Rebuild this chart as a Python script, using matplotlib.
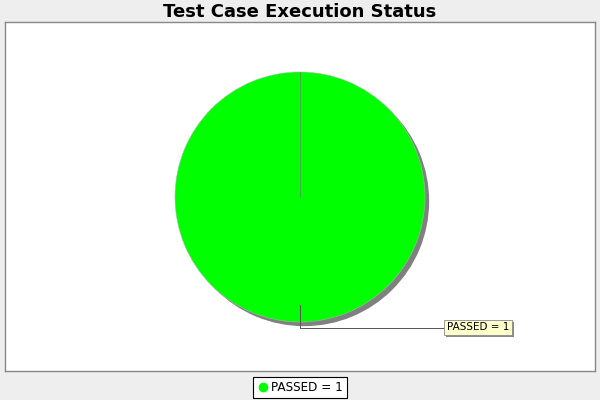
import matplotlib
matplotlib.use("Agg")
import matplotlib.pyplot as plt
import matplotlib.patheffects as pe
from matplotlib.lines import Line2D

TITLE = "Test Case Execution Status"
CATEGORIES = ["PASSED"]
COUNTS = [1]
COLORS = ["#00FF00"]

# Plot area in pixel coordinates (y measured upward from figure bottom)
PLOT_LEFT, PLOT_RIGHT = 5, 595
PLOT_BOTTOM, PLOT_TOP = 29, 378
CENTER = (300, 203)
RADIUS = 125

fig = plt.figure(figsize=(6, 4), dpi=100, facecolor="#EEEEEE")
ax = fig.add_axes([PLOT_LEFT / 600, PLOT_BOTTOM / 400,
                   (PLOT_RIGHT - PLOT_LEFT) / 600, (PLOT_TOP - PLOT_BOTTOM) / 400])
ax.set_facecolor("white")
for spine in ax.spines.values():
    spine.set_edgecolor("#888888")
    spine.set_linewidth(1)
ax.set_xticks([])
ax.set_yticks([])

wedges, _ = ax.pie(COUNTS, colors=COLORS, startangle=90, counterclock=False,
                   center=CENTER, radius=RADIUS, frame=True,
                   wedgeprops={"edgecolor": "#9FBF9F", "linewidth": 0.4})
for w in wedges:
    w.set_path_effects([pe.SimplePatchShadow(offset=(3, -3), shadow_rgbFace="#808080",
                                             alpha=1.0), pe.Normal()])
ax.set_xlim(PLOT_LEFT, PLOT_RIGHT)
ax.set_ylim(PLOT_BOTTOM, PLOT_TOP)
ax.set_aspect("equal")

# slice boundary line from the centre to the top
ax.plot([CENTER[0], CENTER[0]], [CENTER[1], CENTER[1] + RADIUS],
        color="#5F8F5F", linewidth=0.5)

# section label with link line
label_y = 72.5
ax.plot([CENTER[0], CENTER[0], 445], [95, label_y, label_y],
        color="#555555", linewidth=0.7)
ann = ax.text(447, label_y, f"{CATEGORIES[0]} = {COUNTS[0]}", fontsize=7.5,
              ha="left", va="center",
              bbox={"boxstyle": "square,pad=0.25", "fc": "#FFFFCC",
                    "ec": "#888888", "lw": 0.6})
ann.get_bbox_patch().set_path_effects([
    pe.SimplePatchShadow(offset=(1.5, -1.5), shadow_rgbFace="#888888", alpha=1.0),
    pe.Normal()])

fig.text(0.5, 1 - 12 / 400, TITLE, ha="center", va="center",
         fontsize=12.96, fontweight="bold")

handles = [Line2D([], [], marker="o", linestyle="none", markersize=6,
                  markerfacecolor=c, markeredgecolor=c) for c in COLORS]
labels = [f"{c} = {v}" for c, v in zip(CATEGORIES, COUNTS)]
leg = fig.legend(handles, labels, loc="center", bbox_to_anchor=(0.5, 12.5 / 400),
                 fontsize=8.64, frameon=True, fancybox=False, framealpha=1,
                 edgecolor="black", borderpad=0.35, handletextpad=0.2,
                 handlelength=1.0, borderaxespad=0)
leg.get_frame().set_linewidth(0.8)

fig.savefig("out.png", dpi=100, facecolor=fig.get_facecolor())
